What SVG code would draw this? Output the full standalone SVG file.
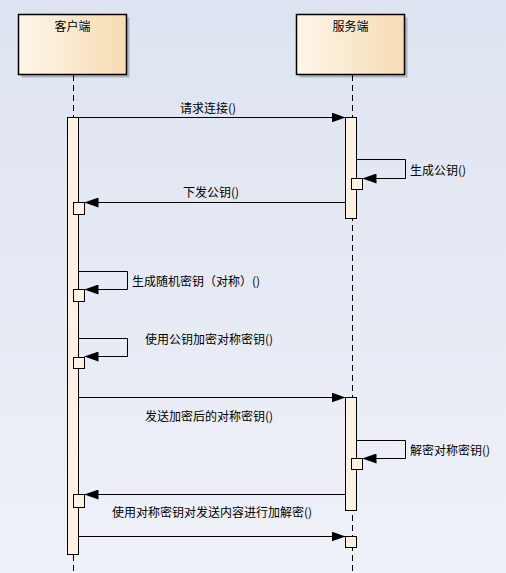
<svg xmlns="http://www.w3.org/2000/svg" width="506" height="573" viewBox="0 0 506 573">
<defs>
<linearGradient id="bg" x1="0" y1="0" x2="0" y2="1">
<stop offset="0" stop-color="#dde3f0"/>
<stop offset="1" stop-color="#eff1f8"/>
</linearGradient>
<linearGradient id="box" x1="0" y1="0" x2="1" y2="0">
<stop offset="0" stop-color="#fdf6ea"/>
<stop offset="1" stop-color="#f7dbb2"/>
</linearGradient>
<marker id="arr" markerUnits="userSpaceOnUse" markerWidth="14" markerHeight="10" refX="14" refY="5" orient="auto">
<path d="M0,0 L14,5 L0,10 z" fill="#000"/>
</marker>
<style>
.shadow{fill:#9a9ea8;opacity:0.7}
.head{fill:url(#box);stroke:#000;stroke-width:1.5}
.life{stroke:#000;stroke-width:1;stroke-dasharray:6,4;fill:none}
.act{fill:#fcf1e2;stroke:#000;stroke-width:1}
.msg{stroke:#000;stroke-width:1;fill:none;marker-end:url(#arr)}
text{font-family:"Noto Sans CJK SC","Noto Sans",sans-serif;font-size:12px;fill:#000}
</style>
</defs>
<rect width="506" height="573" fill="url(#bg)"/>
<g id="client">
<rect class="shadow" x="21.5" y="17.5" width="108" height="60"/>
<rect class="head" x="18.5" y="14.5" width="108" height="60"/>
<text x="72.5" y="31" text-anchor="middle">客户端</text>
<line class="life" x1="73.5" y1="75" x2="73.5" y2="573"/>
<rect class="act" x="67.5" y="117.5" width="11" height="437"/>
</g>
<g id="server">
<rect class="shadow" x="299.5" y="17.5" width="108" height="60"/>
<rect class="head" x="296.5" y="14.5" width="108" height="60"/>
<text x="350.5" y="31" text-anchor="middle">服务端</text>
<line class="life" x1="352.5" y1="75" x2="352.5" y2="573"/>
<rect class="act" x="345.5" y="117.5" width="11" height="101"/>
<rect class="act" x="345.5" y="397.5" width="11" height="113"/>
</g>
<g id="connectors">
<path class="msg" d="M78.5,117.5 H345.5"/>
<path class="msg" d="M356.5,159.5 H405.5 V178.5 H362.5"/>
<path class="msg" d="M345.5,202.5 H84.5"/>
<path class="msg" d="M78.5,271.5 H127.5 V289.5 H84.5"/>
<path class="msg" d="M78.5,338.5 H127.5 V356.5 H84.5"/>
<path class="msg" d="M78.5,397.5 H345.5"/>
<path class="msg" d="M356.5,440.5 H405.5 V458.5 H362.5"/>
<path class="msg" d="M345.5,494.5 H84.5"/>
<path class="msg" d="M78.5,536.5 H345.5"/>
</g>
<g id="exec-boxes">
<rect class="act" x="351.5" y="178.5" width="11" height="11"/>
<rect class="act" x="73.5" y="202.5" width="11" height="12"/>
<rect class="act" x="73.5" y="289.5" width="11" height="12"/>
<rect class="act" x="73.5" y="357.5" width="11" height="11"/>
<rect class="act" x="351.5" y="458.5" width="11" height="11"/>
<rect class="act" x="73.5" y="494.5" width="11" height="13"/>
<rect class="act" x="345.5" y="536.5" width="11" height="11"/>
</g>
<g id="labels">
<text x="180" y="112.5">请求连接()</text>
<text x="410" y="175">生成公钥()</text>
<text x="183" y="197">下发公钥()</text>
<text x="132" y="286">生成随机密钥（对称）()</text>
<text x="145" y="344">使用公钥加密对称密钥()</text>
<text x="145" y="421">发送加密后的对称密钥()</text>
<text x="410" y="455">解密对称密钥()</text>
<text x="112" y="517">使用对称密钥对发送内容进行加解密()</text>
</g>
</svg>
